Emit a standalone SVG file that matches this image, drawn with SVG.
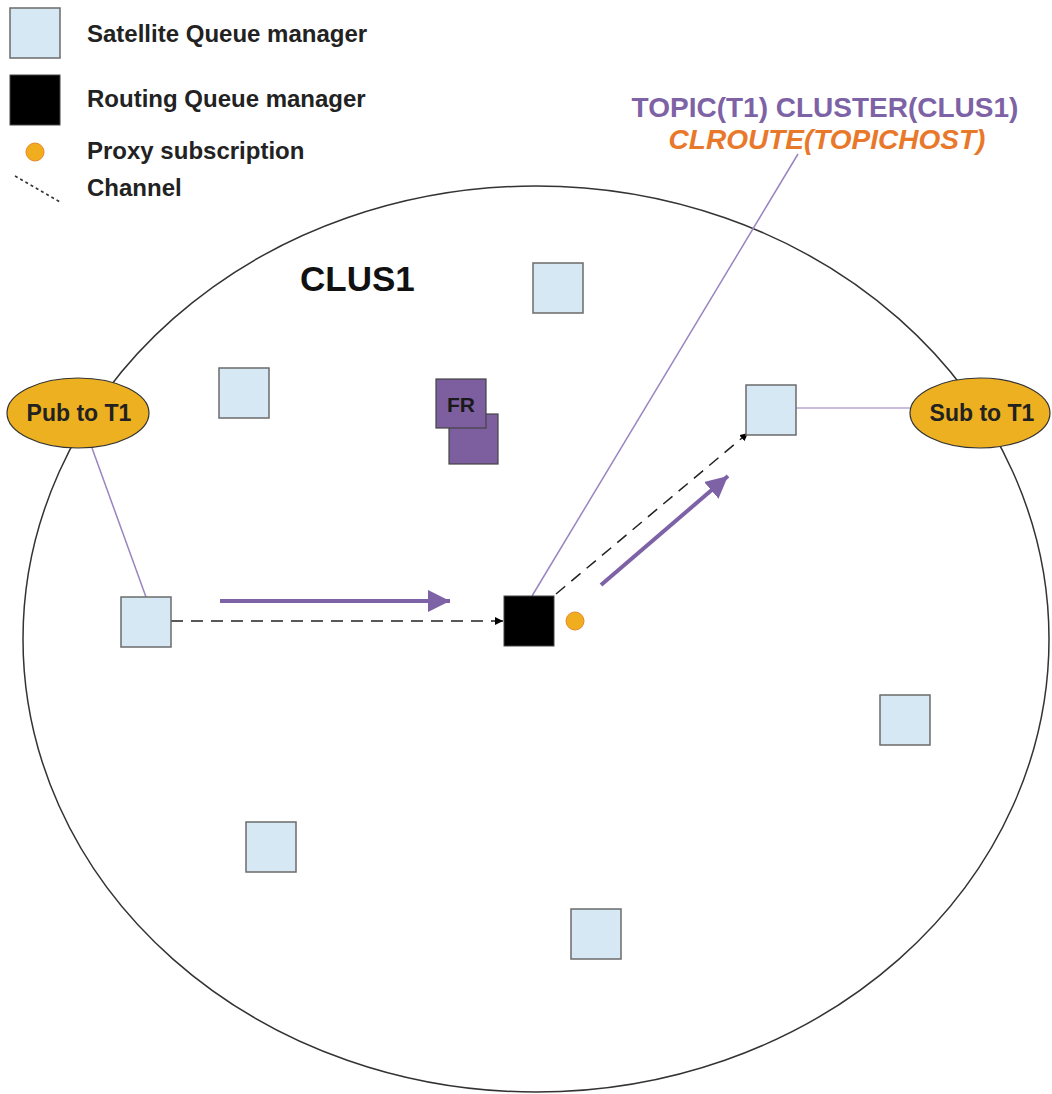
<svg xmlns="http://www.w3.org/2000/svg" width="1052" height="1094" viewBox="0 0 1052 1094">
<style>
text{font-family:"Liberation Sans",Arial,sans-serif;font-weight:bold}
.sat{fill:#d6e8f4;stroke:#6b6b6b;stroke-width:1.5}
.rout{fill:#000;stroke:#444;stroke-width:1}
.fr{fill:#7d5e9e;stroke:#444;stroke-width:1.2}
.ell{fill:#edb021;stroke:#333;stroke-width:1.2}
.lbl{font-size:24px;fill:#222}
.elbl{font-size:23px;fill:#222}
.chan{fill:none;stroke:#222;stroke-width:1.5;stroke-dasharray:12 8}
.flow{fill:none;stroke:#7d62a6;stroke-width:4}
.link{fill:none;stroke:#9a84c0;stroke-width:1.5}
.proxy{fill:#f0ad1e;stroke:#e8862a;stroke-width:1}
</style>
<defs>
<marker id="ah" viewBox="0 0 10 10" refX="10" refY="5" markerWidth="8" markerHeight="8" markerUnits="userSpaceOnUse" orient="auto"><path d="M0,0 L10,5 L0,10 z" fill="#000"/></marker>
<marker id="fh" viewBox="0 0 10 10" refX="10" refY="5" markerWidth="22" markerHeight="22" markerUnits="userSpaceOnUse" orient="auto"><path d="M0,0 L10,5 L0,10 z" fill="#7d62a6"/></marker>
</defs>
<g id="legend">
<rect class="sat" x="10" y="8" width="50" height="50"/>
<text class="lbl" x="87" y="42">Satellite Queue manager</text>
<rect class="rout" x="10" y="75" width="50" height="50"/>
<text class="lbl" x="87" y="107">Routing Queue manager</text>
<circle class="proxy" cx="35" cy="152" r="9"/>
<text class="lbl" x="87" y="159">Proxy subscription</text>
<line x1="15" y1="176" x2="60" y2="202" stroke="#333" stroke-width="1.5" stroke-dasharray="3 3"/>
<text class="lbl" x="87" y="196">Channel</text>
</g>
<g id="cluster">
<ellipse cx="536" cy="639" rx="513" ry="453" fill="none" stroke="#333" stroke-width="1.5"/>
<text x="300" y="291" font-size="35" fill="#111">CLUS1</text>
</g>
<g id="topic-label">
<text x="825" y="117" font-size="28" text-anchor="middle" fill="#7d62a6">TOPIC(T1) CLUSTER(CLUS1)</text>
<text x="827" y="149" font-size="28" text-anchor="middle" font-style="italic" fill="#e8782a">CLROUTE(TOPICHOST)</text>
</g>
<g id="connectors">
<line class="link" x1="92" y1="448" x2="146" y2="597"/>
<line x1="796" y1="408" x2="910" y2="408" stroke="#c9bcdc" stroke-width="2"/>
<line class="link" x1="532" y1="596" x2="798" y2="154"/>
<line class="chan" x1="171" y1="621" x2="503" y2="621" marker-end="url(#ah)"/>
<line class="chan" x1="556" y1="594" x2="748" y2="433" marker-end="url(#ah)"/>
<line class="flow" x1="220" y1="601" x2="450" y2="601" marker-end="url(#fh)"/>
<line class="flow" x1="601" y1="585" x2="728" y2="476" marker-end="url(#fh)"/>
</g>
<g id="pub">
<ellipse class="ell" cx="78" cy="413" rx="71" ry="35"/>
<text class="elbl" x="79" y="421" text-anchor="middle">Pub to T1</text>
</g>
<g id="sub">
<ellipse class="ell" cx="980" cy="413" rx="70" ry="35"/>
<text class="elbl" x="982" y="421" text-anchor="middle">Sub to T1</text>
</g>
<g id="fr">
<rect class="fr" x="449" y="414" width="49" height="50"/>
<rect class="fr" x="436" y="379" width="50" height="49"/>
<text x="461" y="412" font-size="21" text-anchor="middle" fill="#1a1a1a">FR</text>
</g>
<g id="sat1"><rect class="sat" x="533" y="263" width="50" height="50"/></g>
<g id="sat2"><rect class="sat" x="219" y="368" width="50" height="50"/></g>
<g id="sat3"><rect class="sat" x="746" y="385" width="50" height="50"/></g>
<g id="sat4"><rect class="sat" x="121" y="597" width="50" height="50"/></g>
<g id="sat5"><rect class="sat" x="880" y="695" width="50" height="50"/></g>
<g id="sat6"><rect class="sat" x="246" y="822" width="50" height="50"/></g>
<g id="sat7"><rect class="sat" x="571" y="909" width="50" height="50"/></g>
<g id="routing"><rect class="rout" x="504" y="596" width="50" height="50"/></g>
<g id="proxy"><circle class="proxy" cx="575" cy="621" r="9"/></g>
</svg>
